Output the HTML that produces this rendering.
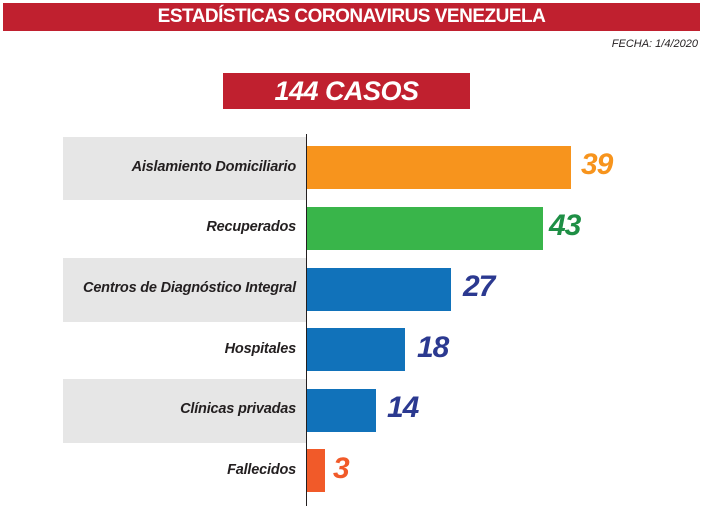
<!DOCTYPE html>
<html><head><meta charset="utf-8"><style>
body{margin:0;width:708px;height:518px;background:#fff;position:relative;overflow:hidden;font-family:"Liberation Sans",sans-serif}
.a{position:absolute}
.band{left:63px;width:243px;background:#e6e6e6}
.lab{right:412px;font-size:14.5px;font-weight:bold;font-style:italic;color:#231f20;text-align:right;white-space:nowrap;letter-spacing:-0.2px}
.bar{left:307px;height:43px}
.v{font-size:30px;font-weight:bold;font-style:italic;letter-spacing:-1px}
</style></head><body>
<div class="a" style="left:3px;top:3px;width:697px;height:28px;background:#c0202f;color:#fff;font-weight:bold;font-size:19px;text-align:center;line-height:28px;letter-spacing:-0.5px">ESTADÍSTICAS CORONAVIRUS VENEZUELA</div>
<div class="a" style="right:10px;top:38px;font-size:11px;font-style:italic;color:#231f20">FECHA: 1/4/2020</div>
<div class="a" style="left:223px;top:73px;width:247px;height:36px;background:#c0202f;color:#fff;font-weight:bold;font-style:italic;font-size:27px;text-align:center;line-height:36px;letter-spacing:-0.5px">144 CASOS</div>
<div class="a band" style="top:137px;height:63px"></div>
<div class="a band" style="top:258px;height:64px"></div>
<div class="a band" style="top:379px;height:64px"></div>
<div class="a" style="left:306px;top:134px;width:1px;height:372px;background:#231f20"></div>
<div class="a lab" style="top:159px">Aislamiento Domiciliario</div>
<div class="a lab" style="top:219px">Recuperados</div>
<div class="a lab" style="top:280px">Centros de Diagnóstico Integral</div>
<div class="a lab" style="top:341px">Hospitales</div>
<div class="a lab" style="top:401px">Clínicas privadas</div>
<div class="a lab" style="top:462px">Fallecidos</div>
<div class="a bar" style="top:146px;width:264px;background:#f7941d"></div>
<div class="a bar" style="top:207px;width:236px;background:#39b54a"></div>
<div class="a bar" style="top:268px;width:144px;background:#1172ba"></div>
<div class="a bar" style="top:328px;width:98px;background:#1172ba"></div>
<div class="a bar" style="top:389px;width:69px;background:#1172ba"></div>
<div class="a bar" style="top:449px;width:18px;background:#f15a29"></div>
<div class="a v" style="left:581px;top:148px;color:#f7941d">39</div>
<div class="a v" style="left:549px;top:209px;color:#1e8f45">43</div>
<div class="a v" style="left:463px;top:270px;color:#2b3990">27</div>
<div class="a v" style="left:417px;top:331px;color:#2b3990">18</div>
<div class="a v" style="left:387px;top:391px;color:#2b3990">14</div>
<div class="a v" style="left:333px;top:452px;color:#f15a29">3</div>
</body></html>
